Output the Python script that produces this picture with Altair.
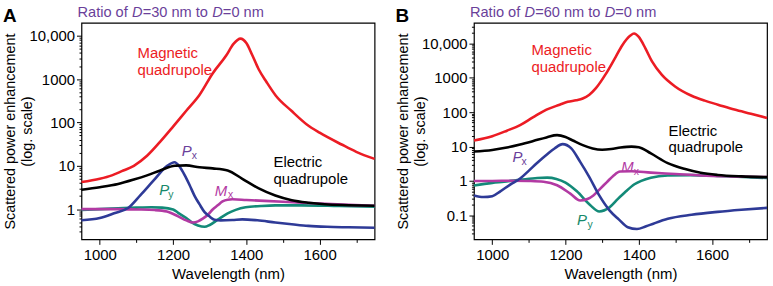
import altair as alt
import pandas as pd

FONT = "Liberation Sans"

# ---------------- Panel A (D = 30 nm) ----------------
A_WL_MQ = [950, 1000, 1033, 1060, 1093, 1129, 1165, 1200, 1236, 1272, 1308, 1345, 1365, 1384, 1400, 1416, 1434, 1455, 1480, 1523, 1565, 1600, 1660, 1700, 1750]
A_MQ = [4.2, 5.0, 6.0, 7.5, 10, 17, 36, 80, 186, 430, 1350, 3500, 6500, 8600, 6800, 3600, 1670, 860, 420, 186, 90, 58, 31, 21, 14.4]

A_WL_EQ = [950, 1000, 1050, 1093, 1129, 1165, 1205, 1236, 1272, 1308, 1349, 1389, 1434, 1479, 1524, 1570, 1614, 1680, 1750]
A_EQ = [2.8, 3.2, 3.8, 4.8, 6.0, 7.8, 10.0, 10.2, 9.2, 8.7, 7.8, 5.0, 3.0, 2.05, 1.6, 1.4, 1.29, 1.23, 1.19]

A_WL_PX = [950, 1000, 1039, 1078, 1111, 1147, 1183, 1204, 1218, 1232, 1245, 1259, 1272, 1286, 1299, 1313, 1330, 1362, 1389, 1430, 1479, 1530, 1569, 1620, 1680, 1750]
A_PX = [0.55, 0.62, 0.8, 1.07, 2.1, 4.6, 9.8, 12.1, 9.5, 6.0, 3.6, 2.0, 1.3, 0.85, 0.68, 0.57, 0.55, 0.56, 0.58, 0.55, 0.49, 0.44, 0.41, 0.39, 0.38, 0.37]

A_WL_PY = [950, 1000, 1050, 1100, 1140, 1170, 1200, 1214, 1236, 1250, 1268, 1286, 1300, 1322, 1349, 1371, 1398, 1440, 1479, 1550, 1650, 1750]
A_PY = [0.95, 1.0, 1.04, 1.08, 1.1, 1.08, 0.98, 0.82, 0.62, 0.5, 0.42, 0.39, 0.43, 0.57, 0.8, 0.96, 1.1, 1.18, 1.22, 1.22, 1.18, 1.13]

A_WL_MX = [950, 1000, 1050, 1100, 1150, 1183, 1214, 1236, 1254, 1268, 1281, 1295, 1308, 1322, 1335, 1349, 1362, 1400, 1450, 1500, 1600, 1680, 1750]
A_MX = [1.0, 1.0, 1.0, 0.98, 0.95, 0.88, 0.68, 0.55, 0.49, 0.52, 0.6, 0.74, 0.98, 1.22, 1.5, 1.65, 1.68, 1.62, 1.55, 1.48, 1.34, 1.25, 1.19]

# ---------------- Panel B (D = 60 nm) ----------------
B_WL_MQ = [950, 1000, 1040, 1076, 1112, 1148, 1184, 1206, 1229, 1247, 1265, 1283, 1310, 1337, 1355, 1377, 1387, 1400, 1418, 1436, 1463, 1499, 1544, 1580, 1616, 1661, 1706, 1750]
B_MQ = [15, 20, 29, 42, 72, 119, 165, 200, 222, 250, 323, 500, 1300, 4100, 8900, 17000, 19400, 15500, 7200, 3000, 1220, 563, 302, 217, 166, 119, 90, 68]

B_WL_EQ = [950, 1000, 1040, 1076, 1112, 1148, 1177, 1200, 1220, 1247, 1274, 1300, 1325, 1350, 1380, 1400, 1433, 1479, 1524, 1569, 1615, 1680, 1750]
B_EQ = [7.2, 8.0, 9.4, 11.5, 14.5, 18.5, 21.5, 19, 15, 11, 8.8, 8.1, 8.5, 9.4, 10, 9.6, 6.3, 3.3, 2.25, 1.73, 1.5, 1.36, 1.29]

B_WL_PX = [950, 976, 1000, 1022, 1050, 1077, 1100, 1123, 1150, 1170, 1192, 1215, 1240, 1265, 1292, 1320, 1346, 1370, 1395, 1420, 1479, 1544, 1615, 1680, 1750]
B_PX = [0.38, 0.34, 0.36, 0.5, 0.8, 1.2, 2.0, 3.4, 6.0, 8.8, 11.8, 9.0, 3.6, 1.3, 0.38, 0.14, 0.075, 0.045, 0.04, 0.048, 0.08, 0.104, 0.126, 0.145, 0.165]

B_WL_PY = [950, 1000, 1032, 1077, 1123, 1150, 1175, 1200, 1231, 1267, 1292, 1320, 1343, 1365, 1388, 1433, 1479, 1540, 1620, 1700, 1750]
B_PY = [0.74, 0.88, 0.95, 1.08, 1.22, 1.25, 1.15, 0.9, 0.5, 0.2, 0.13, 0.17, 0.3, 0.5, 0.8, 1.25, 1.45, 1.48, 1.4, 1.28, 1.22]

B_WL_MX = [950, 1000, 1050, 1100, 1140, 1177, 1213, 1240, 1260, 1276, 1295, 1313, 1330, 1349, 1380, 1433, 1500, 1569, 1650, 1750]
B_MX = [1.0, 1.0, 1.02, 1.0, 0.95, 0.75, 0.43, 0.27, 0.3, 0.38, 0.6, 0.93, 1.4, 1.88, 1.92, 1.75, 1.6, 1.45, 1.36, 1.3]

# ---------------- Annotation labels ----------------
# (text, wavelength, value)
A_LABELS_RED = [("Magnetic", 1103, 3070), ("quadrupole", 1103, 1250)]
A_LABELS_BLACK = [("Electric", 1474, 9.3), ("quadrupole", 1474, 3.85)]
A_SYMBOLS = [("P", 1224, 16.4, "x", 1251, 14.0, "px"),
             ("P", 1162, 2.07, "y", 1187, 1.79, "py"),
             ("M", 1314, 2.04, "x", 1350, 1.84, "mx")]

B_LABELS_RED = [("Magnetic", 1107, 4600), ("quadrupole", 1107, 1483)]
B_LABELS_BLACK = [("Electric", 1481, 20.7), ("quadrupole", 1481, 7.0)]
B_SYMBOLS = [("P", 1055, 3.52, "x", 1080, 2.94, "px"),
             ("P", 1231, 0.0519, "y", 1260, 0.0416, "py"),
             ("M", 1352, 1.77, "x", 1386, 1.51, "mx")]

X_TICKS = [1000, 1100, 1200, 1300, 1400, 1500, 1600, 1700]

LINE_COLORS = {"mq": "#ec1c24", "eq": "#000000", "px": "#2e3a97", "py": "#138a78", "mx": "#b23aa3"}
LABEL_COLORS = {"px": "#6a3f9a", "py": "#17896a", "mx": "#b23aa3"}
TITLE_COLOR = "#6a3f9a"

DECADE = "abs(log(datum.value)/LN10 - round(log(datum.value)/LN10)) < 0.001"


def log_ticks(lo, hi):
    vals = []
    for e in range(-3, 6):
        for m in range(1, 10):
            v = m * 10.0 ** e
            if lo * 1.0001 < v < hi * 0.9999:
                vals.append(v)
    return vals


def panel(letter, dnum, series, red_labels, black_labels, symbols, ydomain):
    xscale = alt.Scale(domain=[950, 1750], nice=False, zero=False)
    yscale = alt.Scale(type="log", domain=ydomain, nice=False)
    xaxis = alt.Axis(
        values=X_TICKS, title="Wavelength (nm)", grid=False, domain=False,
        labelExpr="datum.value % 200 == 0 ? format(datum.value, 'd') : ''",
        tickSize={"condition": {"test": "datum.value % 200 == 0", "value": 5}, "value": 3},
        tickColor="black", labelColor="black", labelFontSize=15, labelPadding=3,
        titleFontSize=15, titleFontWeight="normal", titleColor="black", titlePadding=4,
        labelOverlap=False, labelFlush=False,
    )
    yaxis = alt.Axis(
        values=log_ticks(*ydomain), title=["Scattered power enhancement", "(log. scale)"],
        grid=False, domain=False,
        labelExpr=f"({DECADE}) ? (datum.value >= 10000 ? format(datum.value, ',') : format(datum.value, '')) : ''",
        tickSize={"condition": {"test": DECADE, "value": 5}, "value": 2.5},
        tickColor="black", labelColor="black", labelFontSize=15, labelPadding=2,
        titleFontSize=14.5, titleFontWeight="normal", titleColor="black",
        titleX=-64, titleY=109, titleBaseline="bottom", titleLineHeight=17, titleAngle=270,
        labelOverlap=False, labelFlush=False,
    )

    layers = []
    for key, wl, vals in series:
        df = pd.DataFrame({"wl": wl, "v": vals})
        layers.append(
            alt.Chart(df).mark_line(color=LINE_COLORS[key], strokeWidth=2.6, interpolate="monotone").encode(
                x=alt.X("wl:Q", scale=xscale, axis=xaxis),
                y=alt.Y("v:Q", scale=yscale, axis=yaxis),
            )
        )

    def text_layer(rows, color, size, style="normal"):
        df = pd.DataFrame(rows, columns=["t", "wl", "v"])
        return alt.Chart(df).mark_text(
            align="left", baseline="alphabetic", fontSize=size, color=color, fontStyle=style, font=FONT
        ).encode(
            x=alt.X("wl:Q", scale=xscale, axis=xaxis),
            y=alt.Y("v:Q", scale=yscale, axis=yaxis),
            text="t:N",
        )

    layers.append(text_layer(red_labels, LINE_COLORS["mq"], 15))
    layers.append(text_layer(black_labels, "#000000", 15))
    for sym, swl, sv, sub, bwl, bv, key in symbols:
        layers.append(text_layer([(sym, swl, sv)], LABEL_COLORS[key], 15, "italic"))
        layers.append(text_layer([(sub, bwl, bv)], LABEL_COLORS[key], 10.5))

    # panel letter and title (pixel offsets relative to the plot area)
    one = alt.Data(values=[{"a": 1}])
    layers.append(
        alt.Chart(one).mark_text(text=letter, align="left", baseline="alphabetic", fontSize=19,
                                 fontWeight="bold", color="black", font=FONT)
        .encode(x=alt.value(-79), y=alt.value(-1))
    )
    segs = [("Ratio of", "normal", -4), ("D", "italic", 50.9), (f"={dnum} nm to", "normal", 61.6),
            ("D", "italic", 131.6), ("=0 nm", "normal", 142.3)]
    for txt, style, off in segs:
        layers.append(
            alt.Chart(one).mark_text(text=txt, align="left", baseline="alphabetic", fontSize=14.7,
                                     fontStyle=style, color=TITLE_COLOR, font=FONT)
            .encode(x=alt.value(off), y=alt.value(-6))
        )
    return alt.layer(*layers).properties(width=295, height=218)


pA = panel("A", 30,
           [("py", A_WL_PY, A_PY), ("mx", A_WL_MX, A_MX), ("px", A_WL_PX, A_PX),
            ("eq", A_WL_EQ, A_EQ), ("mq", A_WL_MQ, A_MQ)],
           A_LABELS_RED, A_LABELS_BLACK, A_SYMBOLS, [0.2, 20000])
pB = panel("B", 60,
           [("py", B_WL_PY, B_PY), ("mx", B_WL_MX, B_MX), ("px", B_WL_PX, B_PX),
            ("eq", B_WL_EQ, B_EQ), ("mq", B_WL_MQ, B_MQ)],
           B_LABELS_RED, B_LABELS_BLACK, B_SYMBOLS, [0.02, 40000])

chart = alt.hconcat(pA, pB, spacing=100, bounds="flush").configure(
    padding={"left": 2, "top": 3, "right": 0, "bottom": 0}, font=FONT
).configure_view(stroke="black", strokeWidth=1.2)

chart.save("out.html", embed_options={"renderer": "svg", "actions": False})
